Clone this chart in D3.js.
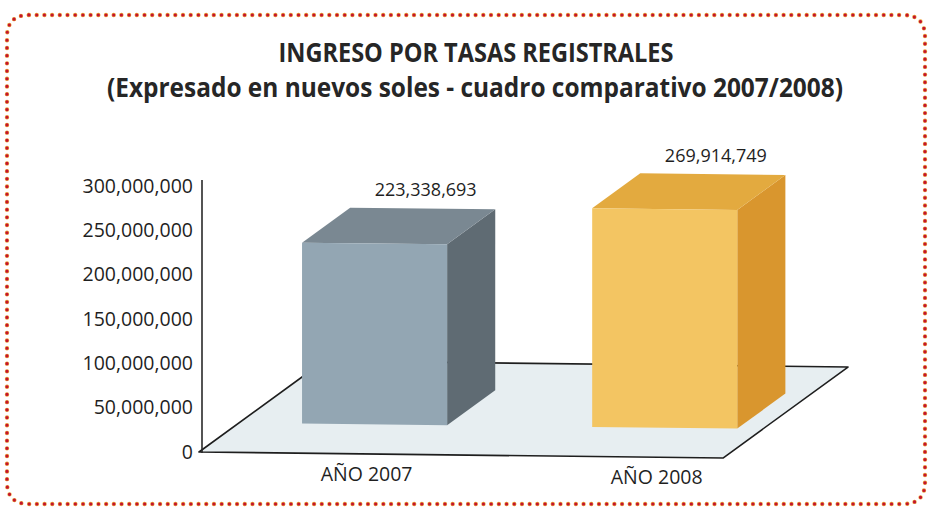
<!DOCTYPE html>
<html>
<head>
<meta charset="utf-8">
<script src="https://cdn.jsdelivr.net/npm/d3@7"></script>
<style>
  body { margin: 0; background: #fff; }
  svg { display: block; }
</style>
</head>
<body>
<div id="chart"></div>
<script>
// chart data
var categories = ["AÑO 2007", "AÑO 2008"];
var values = [223338693, 269914749];
var valueLabels = ["223,338,693", "269,914,749"];
var yTicks = [0, 50000000, 100000000, 150000000, 200000000, 250000000, 300000000];
var titleLines = ["INGRESO POR TASAS REGISTRALES",
                  "(Expresado en nuevos soles - cuadro comparativo 2007/2008)"];

var width = 928, height = 509;

// face colours: front, top, side
var barColors = [
    { front: "#93a6b3", top: "#7a8892", side: "#5f6b73" },
    { front: "#f3c562", top: "#e3aa3f", side: "#d9962e" }
];

var svg = d3.select("#chart")
    .append("svg")
    .attr("width", width)
    .attr("height", height);

// dotted rounded frame
var frame = "M29,15 H903 Q925,15 925,37 V482 Q925,504 903,504 H29 Q7,504 7,482 V37 Q7,15 29,15 Z";
svg.append("path")
    .attr("d", frame)
    .attr("fill", "none")
    .attr("stroke", "#eba13c")
    .attr("stroke-width", 4.4)
    .attr("stroke-linecap", "round")
    .attr("stroke-dasharray", "0 7.7");
svg.append("path")
    .attr("d", frame)
    .attr("fill", "none")
    .attr("stroke", "#c3142e")
    .attr("stroke-width", 3.2)
    .attr("stroke-linecap", "round")
    .attr("stroke-dasharray", "0 7.7");

// title
svg.append("text")
    .attr("x", 476).attr("y", 62)
    .attr("text-anchor", "middle")
    .attr("textLength", 395)
    .attr("lengthAdjust", "spacingAndGlyphs")
    .style("font-family", "'Open Sans', sans-serif")
    .style("font-weight", 700)
    .style("font-size", "26px")
    .style("fill", "#262626")
    .text(titleLines[0]);
svg.append("text")
    .attr("x", 475).attr("y", 97)
    .attr("text-anchor", "middle")
    .attr("textLength", 736)
    .attr("lengthAdjust", "spacingAndGlyphs")
    .style("font-family", "'Open Sans', sans-serif")
    .style("font-weight", 700)
    .style("font-size", "26px")
    .style("fill", "#262626")
    .text(titleLines[1]);

// 3d floor geometry
var ox = 199, oy = 452,          // front-left corner of the floor
    floorLen = 524,              // length of the front edge
    slope = 0.0115,              // the scan is a little tilted
    depthX = 125, depthY = 91;   // vector to the back edge

function proj(u, d, h) {
    return [ox + u + d * depthX, oy + u * slope - d * depthY - h];
}

// band scale along the floor, linear scale for bar height
var x = d3.scaleBand()
    .domain(categories)
    .range([0, floorLen])
    .paddingInner(0.5)
    .paddingOuter(0.153)
    .align(0.71);

var h = d3.scaleLinear()
    .domain([0, 300000000])
    .range([0, 243]);

var y = d3.scaleLinear()
    .domain([0, 300000000])
    .range([452, 186]);

// floor
var floorPts = [proj(0, 0, 0), proj(floorLen, 0, 0), proj(floorLen, 1, 0), proj(0, 1, 0)];
svg.append("path")
    .attr("d", "M" + floorPts.join("L") + "Z")
    .attr("fill", "#e7eef1")
    .attr("stroke", "#1e1e1e")
    .attr("stroke-width", 1.6)
    .attr("stroke-linejoin", "round");

// y axis
var yAxis = svg.append("g")
    .attr("transform", "translate(202,0)")
    .call(d3.axisLeft(y).tickValues(yTicks).tickSize(0).tickPadding(9)
        .tickFormat(d3.format(",")));
yAxis.select(".domain").remove();
yAxis.selectAll("text")
    .style("font-family", "'Open Sans', sans-serif")
    .style("font-size", "19.5px")
    .style("fill", "#1f1f1f");
svg.append("line")
    .attr("x1", 202).attr("x2", 202)
    .attr("y1", y(300000000) - 6).attr("y2", y(0) + 1)
    .attr("stroke", "#2a2a2a")
    .attr("stroke-width", 1.6);

// bars as boxes standing on the floor
var d0 = 0.32, d1 = 0.705;
var bars = svg.selectAll("g.bar")
    .data(values)
    .enter()
    .append("g")
    .attr("class", "bar");

function poly(pts) { return "M" + pts.join("L") + "Z"; }

bars.append("path")   // side
    .attr("d", function(v, i) {
        var u1 = x(categories[i]) + x.bandwidth(), hh = h(v);
        return poly([proj(u1, d0, 0), proj(u1, d1, 0), proj(u1, d1, hh), proj(u1, d0, hh)]);
    })
    .attr("fill", function(v, i) { return barColors[i].side; });

bars.append("path")   // top
    .attr("d", function(v, i) {
        var u0 = x(categories[i]), u1 = u0 + x.bandwidth(), hh = h(v);
        return poly([proj(u0, d0, hh), proj(u1, d0, hh), proj(u1, d1, hh), proj(u0, d1, hh)]);
    })
    .attr("fill", function(v, i) { return barColors[i].top; });

bars.append("path")   // front
    .attr("d", function(v, i) {
        var u0 = x(categories[i]), u1 = u0 + x.bandwidth(), hh = h(v);
        return poly([proj(u0, d0, 0), proj(u1, d0, 0), proj(u1, d0, hh), proj(u0, d0, hh)]);
    })
    .attr("fill", function(v, i) { return barColors[i].front; });

// value labels above the boxes
bars.append("text")
    .attr("x", function(v, i) { return proj(x(categories[i]) + x.bandwidth() / 2, d1, h(v))[0] + 3; })
    .attr("y", function(v, i) { return proj(x(categories[i]) + x.bandwidth() / 2, d1, h(v))[1] - 12; })
    .attr("text-anchor", "middle")
    .style("font-family", "'Open Sans', sans-serif")
    .style("font-size", "18px")
    .style("fill", "#1f1f1f")
    .text(function(v, i) { return valueLabels[i]; });

// category labels in front of the floor
svg.selectAll("text.cat")
    .data(categories)
    .enter()
    .append("text")
    .attr("class", "cat")
    .attr("x", function(c) { return proj(x(c) + x.bandwidth() / 2, 0, 0)[0] + 32; })
    .attr("y", function(c) { return proj(x(c) + x.bandwidth() / 2, 0, 0)[1] + 27; })
    .attr("text-anchor", "middle")
    .style("font-family", "'Open Sans', sans-serif")
    .style("font-size", "19.5px")
    .style("fill", "#1f1f1f")
    .text(function(c) { return c; });
</script>
</body>
</html>
